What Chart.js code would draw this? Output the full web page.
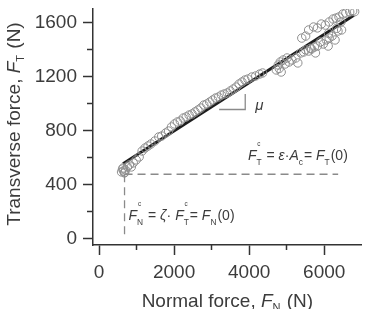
<!DOCTYPE html>
<html>
<head>
<meta charset="utf-8">
<script src="https://cdn.jsdelivr.net/npm/chart.js@4.4.1/dist/chart.umd.min.js"></script>
<style>
	html, body { margin: 0; padding: 0; background: #fff; }
	#wrap { width: 367px; height: 309px; position: relative; }
</style>
</head>
<body>
<div id="wrap"><canvas id="chart"></canvas></div>
<script>
// 測定点 (normal force F_N, transverse force F_T)
const normalForce = [
	600, 626, 652, 678, 704, 645, 686, 757, 809, 861, 913, 991, 1070, 1148, 1226, 1305, 1383, 1487,
	1591, 1670, 1774, 1852, 1931, 2009, 2087, 2166, 2244, 2322, 2400, 2479, 2557, 2635, 2713,
	2792, 2870, 2948, 3026, 3105, 3183, 3261, 3339, 3418, 3496, 3574, 3653, 3731, 3809, 3887,
	3966, 4070, 4174, 4279, 4357,
	4722, 4775, 4827, 4853, 4905, 4957, 5009, 5061, 5140, 5244, 5296, 4800,
	5401, 5505, 5583, 5714, 5818, 5922, 6027, 6131, 6235, 6314, 6392, 6496, 6575, 6679, 6757, 6444, 6810,
	5375, 5453, 5505, 5583, 5662, 5740, 5818, 5896, 5975, 6053, 6131, 6209, 6288, 6366, 6105, 5766,
	6332, 6462, 6113, 5635
];
const transverseForce = [
	495, 517, 503, 488, 510, 525, 493, 532, 547, 532, 562, 584, 606, 650, 672, 687, 702, 724,
	754, 761, 783, 798, 828, 850, 865, 872, 894, 902, 916, 924, 939, 953, 968,
	990, 998, 1012, 1027, 1042, 1049, 1064, 1072, 1079, 1094, 1108, 1123, 1145, 1160, 1175,
	1182, 1197, 1205, 1219, 1227,
	1249, 1286, 1308, 1234, 1323, 1293, 1338, 1308, 1323, 1338, 1301, 1260,
	1485, 1500, 1545, 1567, 1560, 1589, 1581, 1604, 1626, 1633, 1641, 1663, 1670, 1678, 1685, 1604, 1680,
	1375, 1382, 1397, 1389, 1404, 1419, 1426, 1456, 1441, 1471, 1485, 1500, 1471, 1537, 1426, 1375,
	1557, 1545, 1520, 1409
];
// 回帰直線
const fitNormal = [640, 6790];
const fitTransverse = [555, 1653];
// 臨界値 F_N^c, F_T^c
const criticalNormal = 680;
const criticalTransverse = 478;
const criticalLineEnd = 6370;
// 傾き μ のマーカー
const slopeNormal = [3200, 3895, 3895];
const slopeTransverse = [957, 957, 1071];
// 目盛り
const xTicks = [0, 2000, 4000, 6000];
const xMinorTicks = [1000, 3000, 5000];
const yTicks = [0, 400, 800, 1200, 1600];
const yMinorTicks = [200, 600, 1000, 1400];
const X_MIN = -160, X_MAX = 7000, Y_MIN = -45, Y_MAX = 1700;

const FONT = '"Liberation Sans", Arial, Helvetica, sans-serif';
const TEXT_COLOR = '#3c3c3c';
const AXIS_COLOR = '#333333';

const pts = (xs, ys) => xs.map((v, i) => ({ x: v, y: ys[i] }));

// 上付き・下付きを含む文字列を描く
function drawRuns(ctx, runs, x, y, size, opt, draw) {
	let cx = x;
	runs.forEach(r => {
		let fs = size, dy = 0;
		if (r.sub) { fs = size * opt.subScale; dy = size * opt.subShift; }
		ctx.font = (r.i ? 'italic ' : '') + fs + 'px ' + FONT;
		let w = ctx.measureText(r.t).width;
		if (draw) ctx.fillText(r.t, cx, y + dy);
		if (r.sup) {
			ctx.font = (size * 0.45) + 'px ' + FONT;
			if (draw) ctx.fillText(r.sup, cx + w * 0.15, y - size * 1.0);
		}
		cx += w + (r.sub ? 1 : 0);
	});
	return cx - x;
}

const labelPlugin = {
	id: 'labelPlugin',
	afterDraw(chart) {
		const { ctx, chartArea, scales } = chart;
		const xs = scales.x, ys = scales.y;
		ctx.save();
		ctx.fillStyle = TEXT_COLOR;
		ctx.textBaseline = 'alphabetic';
		const titleOpt = { subScale: 0.58, subShift: 0.22 };
		const noteOpt = { subScale: 0.6, subShift: 0.36 };

		// x軸タイトル
		const xTitle = [{ t: 'Normal force, ' }, { t: 'F', i: 1 }, { t: 'N', sub: 1 }, { t: ' (N)' }];
		let w = drawRuns(ctx, xTitle, 0, 0, 19, titleOpt, false);
		drawRuns(ctx, xTitle, (chartArea.left + chartArea.right) / 2 - w / 2, 307, 19, titleOpt, true);

		// y軸タイトル
		const yTitle = [{ t: 'Transverse force, ' }, { t: 'F', i: 1 }, { t: 'T', sub: 1 }, { t: ' (N)' }];
		w = drawRuns(ctx, yTitle, 0, 0, 19, titleOpt, false);
		ctx.save();
		ctx.translate(19.5, 124);
		ctx.rotate(-Math.PI / 2);
		drawRuns(ctx, yTitle, -w / 2, 0, 19, titleOpt, true);
		ctx.restore();

		// μ
		ctx.font = 'italic 15px ' + FONT;
		ctx.fillText('μ', xs.getPixelForValue(slopeNormal[2]) + 10, ys.getPixelForValue(slopeTransverse[0]) + 0.5);

		// F_T^c = ε·A_c = F_T(0)
		const noteT = [
			{ t: 'F', i: 1 }, { t: 'T', sub: 1, sup: 'c' }, { t: ' = ' }, { t: 'ε', i: 1 }, { t: '·' },
			{ t: 'A', i: 1 }, { t: 'c', sub: 1 }, { t: '= ' }, { t: 'F', i: 1 }, { t: 'T', sub: 1 }, { t: '(0)' }
		];
		drawRuns(ctx, noteT, 248, ys.getPixelForValue(criticalTransverse) - 14, 14, noteOpt, true);

		// F_N^c = ζ·F_T^c = F_N(0)
		const noteN = [
			{ t: 'F', i: 1 }, { t: 'N', sub: 1, sup: 'c' }, { t: ' = ' }, { t: 'ζ', i: 1 }, { t: '· ' },
			{ t: 'F', i: 1 }, { t: 'T', sub: 1, sup: 'c' }, { t: '= ' }, { t: 'F', i: 1 }, { t: 'N', sub: 1 }, { t: '(0)' }
		];
		drawRuns(ctx, noteN, xs.getPixelForValue(criticalNormal) + 4, 220, 14, noteOpt, true);
		ctx.restore();
	}
};

const fixedTicks = list => s => { s.ticks = list.map(v => ({ value: v })); };
const plainLabel = v => String(v);

new Chart(document.getElementById('chart'), {
	type: 'scatter',
	data: {
		datasets: [{
			label: 'data',
			data: pts(normalForce, transverseForce),
			pointStyle: 'circle',
			pointRadius: 4.2,
			borderColor: '#8e8e8e',
			backgroundColor: 'rgba(0,0,0,0)',
			borderWidth: 1
		}, {
			label: 'Fc_T',
			data: pts([criticalNormal, criticalLineEnd], [criticalTransverse, criticalTransverse]),
			showLine: true,
			pointRadius: 0,
			borderColor: '#8a8a8a',
			borderWidth: 1.3,
			borderDash: [8, 5]
		}, {
			label: 'Fc_N',
			data: pts([criticalNormal, criticalNormal], [criticalTransverse, 0]),
			showLine: true,
			pointRadius: 0,
			borderColor: '#8a8a8a',
			borderWidth: 1.3,
			borderDash: [8, 5]
		}, {
			label: 'slope',
			data: pts(slopeNormal, slopeTransverse),
			showLine: true,
			pointRadius: 0,
			borderColor: '#8a8a8a',
			borderWidth: 1.3
		}, {
			label: 'fit',
			data: pts(fitNormal, fitTransverse),
			showLine: true,
			pointRadius: 0,
			borderColor: '#1e1e1e',
			borderWidth: 3
		}]
	},
	options: {
		responsive: true,
		maintainAspectRatio: false,
		animation: false,
		events: [],
		layout: { padding: { top: 9, right: 0, bottom: 0, left: 0 } },
		plugins: { legend: { display: false }, tooltip: { enabled: false } },
		scales: {
			x: {
				type: 'linear', position: 'bottom', min: X_MIN, max: X_MAX, weight: 1,
				afterBuildTicks: fixedTicks(xTicks),
				afterFit: s => { s.height = 64; s.paddingLeft = 0; s.paddingRight = 0; },
				grid: { drawOnChartArea: false, tickLength: 10, tickColor: AXIS_COLOR, tickWidth: 1.5 },
				border: { color: AXIS_COLOR, width: 1.5 },
				ticks: { color: TEXT_COLOR, font: { family: FONT, size: 19 }, padding: 6, maxRotation: 0, autoSkip: false, callback: plainLabel }
			},
			xMinor: {
				type: 'linear', position: 'bottom', min: X_MIN, max: X_MAX, weight: 0,
				afterBuildTicks: fixedTicks(xMinorTicks),
				afterFit: s => { s.height = 0; s.paddingLeft = 0; s.paddingRight = 0; },
				grid: { drawOnChartArea: false, tickLength: 5, tickColor: AXIS_COLOR, tickWidth: 1.5 },
				border: { display: false },
				ticks: { display: false }
			},
			y: {
				type: 'linear', position: 'left', min: Y_MIN, max: Y_MAX, weight: 1,
				afterBuildTicks: fixedTicks(yTicks),
				afterFit: s => { s.width = 93; s.paddingTop = 0; s.paddingBottom = 0; },
				grid: { drawOnChartArea: false, tickLength: 10, tickColor: AXIS_COLOR, tickWidth: 1.5 },
				border: { color: AXIS_COLOR, width: 1.5 },
				ticks: { color: TEXT_COLOR, font: { family: FONT, size: 19 }, padding: 6, callback: plainLabel }
			},
			yMinor: {
				type: 'linear', position: 'left', min: Y_MIN, max: Y_MAX, weight: 0,
				afterBuildTicks: fixedTicks(yMinorTicks),
				afterFit: s => { s.width = 0; s.paddingTop = 0; s.paddingBottom = 0; },
				grid: { drawOnChartArea: false, tickLength: 6, tickColor: AXIS_COLOR, tickWidth: 1.5 },
				border: { display: false },
				ticks: { display: false }
			}
		}
	},
	plugins: [labelPlugin]
});
</script>
</body>
</html>
